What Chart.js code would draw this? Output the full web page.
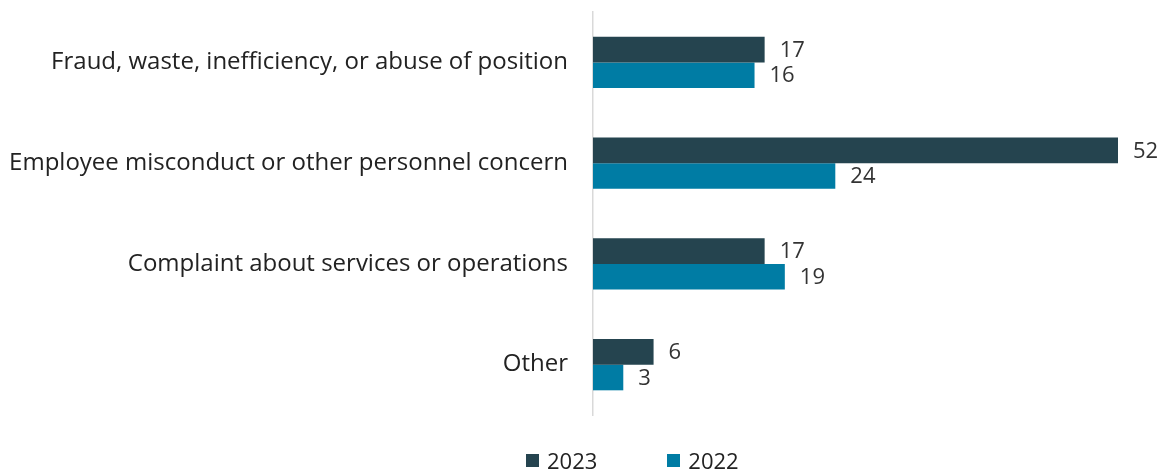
<!DOCTYPE html>
<html>
<head>
<meta charset="utf-8">
<script src="https://cdn.jsdelivr.net/npm/chart.js@4.4.1/dist/chart.umd.min.js"></script>
<style>
  html, body { margin: 0; padding: 0; background: #fff; }
  #wrap { position: relative; width: 1164px; height: 470px; }
  #legend { position: absolute; top: 445px; left: 526px; display: flex; font-family: "Open Sans", sans-serif; font-size: 22px; color: #222; }
  #legend .item { display: flex; align-items: center; margin-right: 70px; }
  #legend .box { width: 13px; height: 13px; margin-right: 8px; }
</style>
</head>
<body>
<div id="wrap">
  <canvas id="grafico" width="1164" height="470"></canvas>
  <div id="legend"></div>
</div>
<script>
const categorias = [
  "Fraud, waste, inefficiency, or abuse of position",
  "Employee misconduct or other personnel concern",
  "Complaint about services or operations",
  "Other"
];
const valores2023 = [17, 52, 17, 6];
const valores2022 = [16, 24, 19, 3];

const corEscura = "#25444f";
const corAzul = "#007ca4";

// desenha o valor ao lado de cada barra
const rotulos = {
  id: "rotulos",
  afterDatasetsDraw(chart) {
    const ctx = chart.ctx;
    ctx.save();
    ctx.font = "22px 'Open Sans', sans-serif";
    ctx.fillStyle = "#333";
    ctx.textBaseline = "middle";
    chart.data.datasets.forEach((ds, i) => {
      chart.getDatasetMeta(i).data.forEach((bar, j) => {
        ctx.fillText(ds.data[j], bar.x + 15, bar.y + 1);
      });
    });
    ctx.restore();
  }
};

const chart = new Chart(document.getElementById("grafico"), {
  type: "bar",
  data: {
    labels: categorias,
    datasets: [
      { label: "2023", data: valores2023, backgroundColor: corEscura, categoryPercentage: 0.51, barPercentage: 1 },
      { label: "2022", data: valores2022, backgroundColor: corAzul, categoryPercentage: 0.51, barPercentage: 1 }
    ]
  },
  options: {
    indexAxis: "y",
    responsive: false,
    animation: false,
    layout: { padding: { top: 12, bottom: 55, right: 46, left: 10 } },
    plugins: {
      legend: { display: false },
      tooltip: { enabled: false }
    },
    scales: {
      x: { display: false, min: 0, max: 52 },
      y: {
        grid: { display: false, drawTicks: false },
        border: { display: true, color: "#d9d9d9", width: 1.5 },
        ticks: {
          color: "#222",
          padding: 25,
          font: { family: "'Open Sans', sans-serif", size: 24 }
        },
        // largura fixa pros rótulos longos e sem folga extra em cima/baixo
        afterFit(scale) {
          scale.width = 583;
          scale.paddingTop = 0;
          scale.paddingBottom = 0;
        }
      }
    }
  },
  plugins: [rotulos]
});

// legenda em HTML
const legenda = document.getElementById("legend");
chart.data.datasets.forEach(ds => {
  legenda.innerHTML += `<div class="item"><span class="box" style="background:${ds.backgroundColor}"></span>${ds.label}</div>`;
});
</script>
</body>
</html>
